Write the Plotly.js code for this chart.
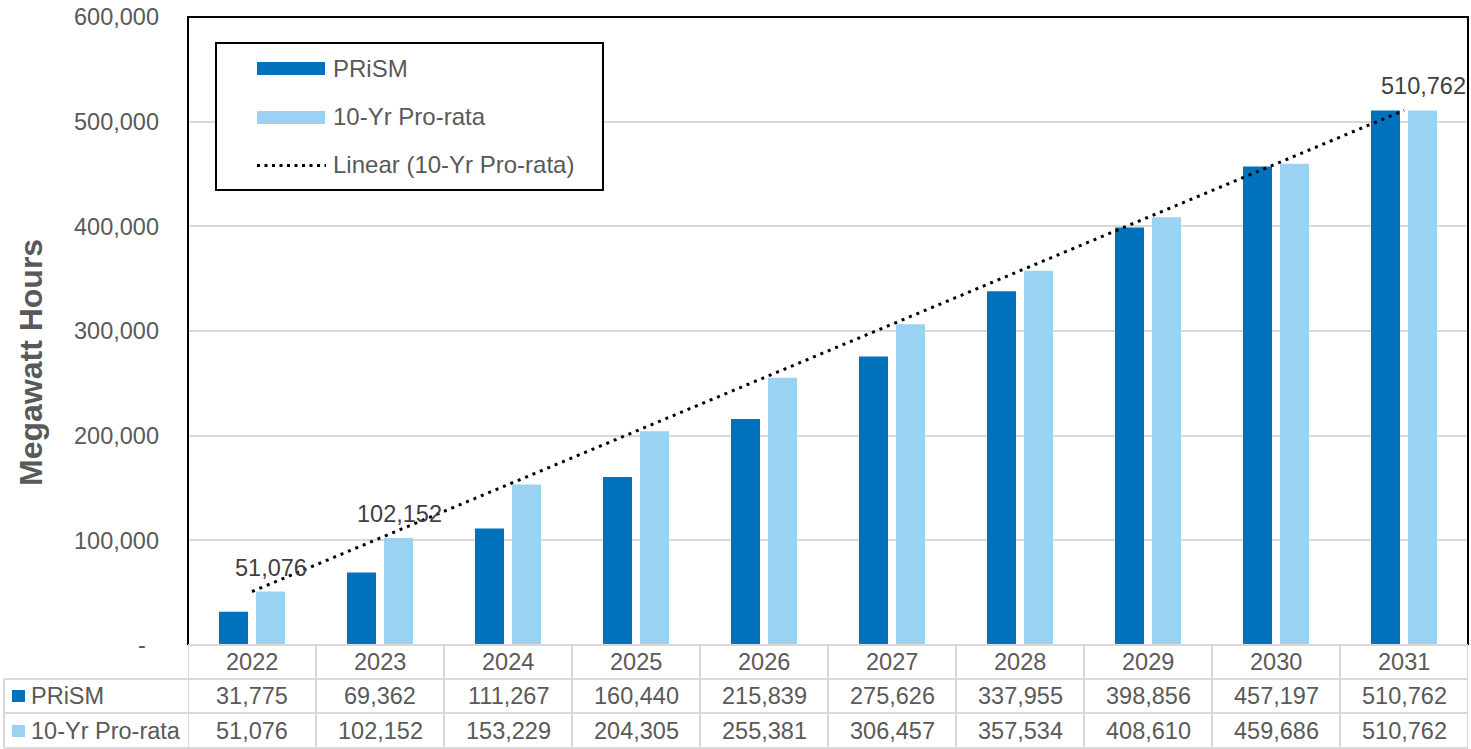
<!DOCTYPE html>
<html>
<head>
<meta charset="utf-8">
<script src="https://cdn.plot.ly/plotly-3.0.1.min.js"></script>
<style>
  html, body { margin: 0; padding: 0; background: #ffffff; }
  #chart { width: 1471px; height: 749px; }
</style>
</head>
<body>
<div id="chart"></div>
<script>
// ---------- DATA ----------
const years = ['2022', '2023', '2024', '2025', '2026', '2027', '2028', '2029', '2030', '2031'];
const prism = [31775, 69362, 111267, 160440, 215839, 275626, 337955, 398856, 457197, 510762];
const proRata = [51076, 102152, 153229, 204305, 255381, 306457, 357534, 408610, 459686, 510762];
const seriesNames = ['PRiSM', '10-Yr Pro-rata', 'Linear (10-Yr Pro-rata)'];
const yTickVals = [0, 100000, 200000, 300000, 400000, 500000, 600000];
const yTickText = ['-\u00a0\u00a0', '100,000', '200,000', '300,000', '400,000', '500,000', '600,000'];
const labelYears = ['2022', '2023', '2031'];
const yTitle = 'Megawatt Hours';

// ---------- STYLE ----------
const DARK = '#0072BC';
const LIGHT = '#9BD1F1';
const GRAY_TXT = '#595959';
const LABEL_TXT = '#404040';
const GRID = '#d9d9d9';
const FONT = 'Liberation Sans, Arial, sans-serif';
const FS = 23.5;

// figure geometry (pixels) -> paper helpers
const W = 1471, H = 749;
const L = 188, R = 3, T = 17, B = 104;
const PW = W - L - R, PH = H - T - B;
const px = x => (x - L) / PW;
const py = y => (H - B - y) / PH;
const fmt = v => v.toLocaleString('en-US');

// least-squares linear trend of the 10-Yr Pro-rata series (Excel "Linear" trendline)
const n = proRata.length;
const idx = proRata.map((_, i) => i + 1);
const mx = idx.reduce((a, b) => a + b, 0) / n;
const my = proRata.reduce((a, b) => a + b, 0) / n;
let sxy = 0, sxx = 0;
for (let i = 0; i < n; i++) { sxy += (idx[i] - mx) * (proRata[i] - my); sxx += (idx[i] - mx) ** 2; }
const slope = sxy / sxx, intercept = my - slope * mx;
const trend = idx.map(i => intercept + slope * i);

const traces = [
  { type: 'bar', name: seriesNames[0], x: years, y: prism,
    marker: { color: DARK, line: { width: 0 } }, hoverinfo: 'x+y' },
  { type: 'bar', name: seriesNames[1], x: years, y: proRata,
    marker: { color: LIGHT, line: { width: 0 } }, hoverinfo: 'x+y' },
  { type: 'scatter', mode: 'lines', name: seriesNames[2], x: years, y: trend,
    line: { color: '#000000', width: 3, dash: '3px,5px' }, hoverinfo: 'skip' }
];

const shapes = [];
const annotations = [];

// plot frame: black left / top / right
shapes.push({ type: 'path', xref: 'paper', yref: 'paper', path: 'M 0 0 L 0 1 L 1 1 L 1 0',
  line: { color: '#000000', width: 2 }, layer: 'above' });

// ---------- DATA TABLE ----------
const tblLine = { color: GRID, width: 2 };
const yRow1 = py(679), yRow2 = py(713), yBot = py(748), yTop = 0;
shapes.push({ type: 'line', xref: 'paper', yref: 'paper', x0: 0, x1: 1, y0: yTop, y1: yTop, line: tblLine });
[yRow1, yRow2, yBot].forEach(y => shapes.push({ type: 'line', xref: 'paper', yref: 'paper',
  x0: px(4), x1: 1, y0: y, y1: y, line: tblLine }));
for (let i = 0; i <= years.length; i++) {
  shapes.push({ type: 'line', xref: 'x', yref: 'paper', x0: i - 0.5, x1: i - 0.5,
    y0: yTop, y1: yBot, line: tblLine });
}
shapes.push({ type: 'line', xref: 'paper', yref: 'paper', x0: px(4), x1: px(4),
  y0: yRow1, y1: yBot, line: tblLine });

const rowYs = [py(662), py(696), py(731)];
years.forEach((yr, i) => {
  [[yr, rowYs[0]], [fmt(prism[i]), rowYs[1]], [fmt(proRata[i]), rowYs[2]]].forEach(([t, y]) => {
    annotations.push({ xref: 'x', yref: 'paper', x: i, y: y, text: t, showarrow: false,
      xanchor: 'center', yanchor: 'middle', font: { family: FONT, size: FS, color: GRAY_TXT } });
  });
});
[[seriesNames[0], DARK, 696], [seriesNames[1], LIGHT, 731]].forEach(([name, col, yc]) => {
  shapes.push({ type: 'rect', xref: 'paper', yref: 'paper', x0: px(12), x1: px(25),
    y0: py(yc - 6), y1: py(yc + 6), fillcolor: col, line: { width: 0 } });
  annotations.push({ xref: 'paper', yref: 'paper', x: px(29), y: py(yc), text: name, showarrow: false,
    xanchor: 'left', yanchor: 'middle', font: { family: FONT, size: FS, color: GRAY_TXT } });
});

// ---------- LEGEND (boxed, inside plot) ----------
shapes.push({ type: 'rect', xref: 'paper', yref: 'paper', x0: px(216), x1: px(603), y0: py(190), y1: py(43),
  fillcolor: '#ffffff', line: { color: '#000000', width: 2 }, layer: 'above' });
shapes.push({ type: 'rect', xref: 'paper', yref: 'paper', x0: px(257), x1: px(325), y0: py(75), y1: py(62),
  fillcolor: DARK, line: { width: 0 }, layer: 'above' });
shapes.push({ type: 'rect', xref: 'paper', yref: 'paper', x0: px(257), x1: px(325), y0: py(124), y1: py(111),
  fillcolor: LIGHT, line: { width: 0 }, layer: 'above' });
shapes.push({ type: 'line', xref: 'paper', yref: 'paper', x0: px(257), x1: px(326), y0: py(165.5), y1: py(165.5),
  line: { color: '#000000', width: 3, dash: '3px,4.5px' }, layer: 'above' });
[[seriesNames[0], 68], [seriesNames[1], 117], [seriesNames[2], 165]].forEach(([t, yc]) => {
  annotations.push({ xref: 'paper', yref: 'paper', x: px(331), y: py(yc), text: t, showarrow: false,
    xanchor: 'left', yanchor: 'middle', font: { family: FONT, size: 24, color: GRAY_TXT } });
});

// ---------- DATA LABELS on 10-Yr Pro-rata ----------
labelYears.forEach(yr => {
  const i = years.indexOf(yr);
  annotations.push({ xref: 'x', yref: 'y', x: i, y: proRata[i], xshift: 19, yshift: 24,
    text: fmt(proRata[i]), showarrow: false, xanchor: 'center', yanchor: 'middle',
    font: { family: FONT, size: FS, color: LABEL_TXT } });
});

// ---------- Y TITLE ----------
annotations.push({ xref: 'paper', yref: 'paper', x: px(31), y: py(363), text: '<b>' + yTitle + '</b>',
  textangle: -90, showarrow: false, xanchor: 'center', yanchor: 'middle',
  font: { family: FONT, size: 32, color: GRAY_TXT } });

const layout = {
  width: W, height: H,
  margin: { l: L, r: R, t: T, b: B, pad: 0 },
  paper_bgcolor: '#ffffff', plot_bgcolor: '#ffffff',
  showlegend: false,
  barmode: 'group', bargap: 0.422, bargroupgap: 0.216,
  font: { family: FONT, size: FS, color: GRAY_TXT },
  xaxis: { type: 'category', range: [-0.5, 9.5], showticklabels: false, showgrid: false,
    zeroline: false, showline: false, ticks: '', fixedrange: true },
  yaxis: { range: [0, 600000], tickvals: yTickVals, ticktext: yTickText, showgrid: true,
    gridcolor: GRID, gridwidth: 2, zeroline: false, showline: false, ticks: '',
    ticklabelstandoff: 28, automargin: false,
    tickfont: { family: FONT, size: FS, color: GRAY_TXT }, fixedrange: true },
  shapes: shapes,
  annotations: annotations
};

Plotly.newPlot('chart', traces, layout, { displayModeBar: false, staticPlot: true });
</script>
</body>
</html>
